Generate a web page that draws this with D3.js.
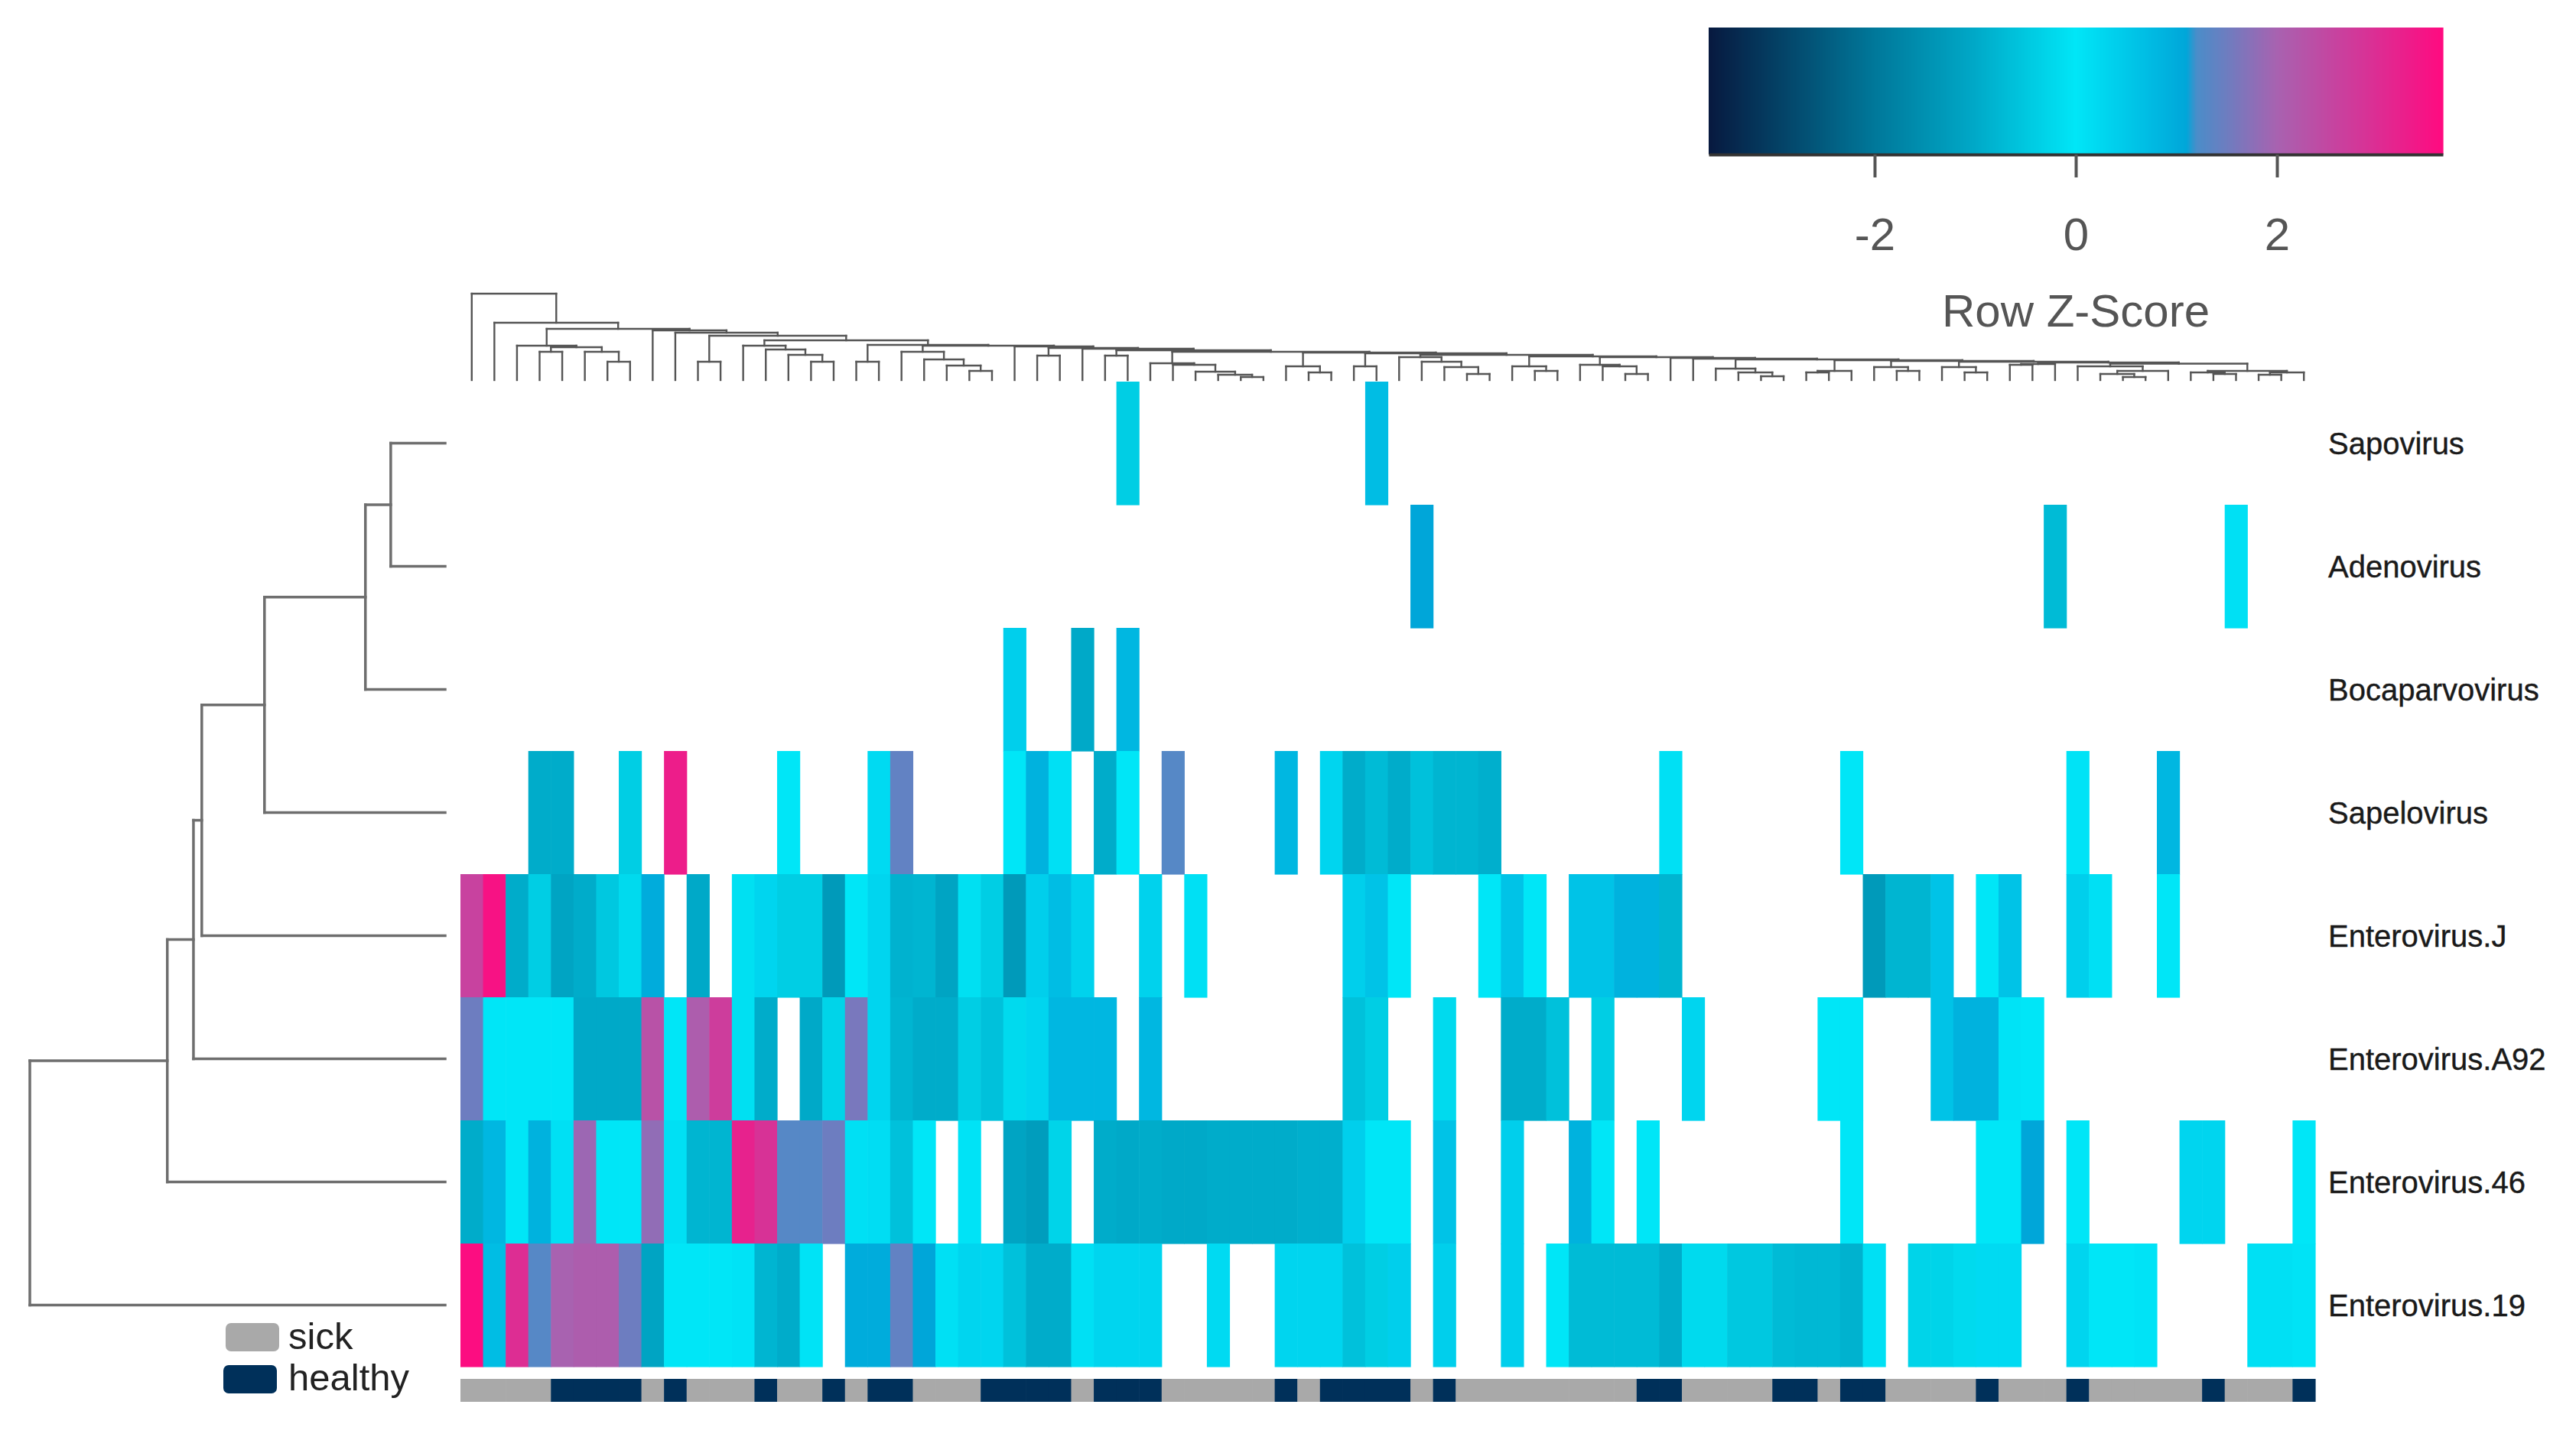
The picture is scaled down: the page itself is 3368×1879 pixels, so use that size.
<!DOCTYPE html>
<html>
<head>
<meta charset="utf-8">
<script src="https://cdn.jsdelivr.net/npm/d3@7"></script>
<style>
  body { margin: 0; background: #fff; }
  svg { display: block; }
</style>
</head>
<body>
<svg id="chart" width="3368" height="1879"></svg>
<script>
// heatmap of virus detections, row z-scores, 82 samples
const rowNames = ["Sapovirus", "Adenovirus", "Bocaparvovirus", "Sapelovirus",
  "Enterovirus.J", "Enterovirus.A92", "Enterovirus.46", "Enterovirus.19"];
const nCols = 82;

// each row: [column, z-score], empty cells are left out
const sapovirus = [[29, -0.4], [40, 0.7]];
const adenovirus = [[42, 1.1], [70, -0.7], [78, 0.1]];
const bocaparvovirus = [[24, 0.4], [27, -1.0], [29, 0.8]];
const sapelovirus = [[3, -0.95], [4, -0.95], [7, -0.4], [9, 3.3], [14, 0.0], [18, 0.2], [19, 1.4],
  [24, 0.0], [25, 0.9], [26, 0.1], [28, -0.95], [29, 0.0], [31, 1.3], [36, 0.8], [38, 0.3],
  [39, -0.95], [40, -0.7], [41, -0.95], [42, -0.6], [43, -0.8], [44, -0.8], [45, -0.9],
  [53, 0.1], [61, 0.0], [71, 0.05], [75, 0.8]];
const enterovirusJ = [[0, 2.6], [1, 3.5], [2, -0.95], [3, -0.4], [4, -1.1], [5, -0.95], [6, -0.5],
  [7, -0.2], [8, 1.0], [10, -1.0], [12, -0.1], [13, 0.3], [14, -0.4], [15, -0.4], [16, -1.3],
  [17, 0.0], [18, 0.3], [19, -0.85], [20, -0.8], [21, -1.1], [22, -0.1], [23, -0.4], [24, -1.3],
  [25, 0.4], [26, 0.7], [27, 0.35], [30, 0.35], [32, 0.1], [39, 0.4], [40, 0.6], [41, 0.0],
  [45, 0.0], [46, 0.6], [47, 0.0], [49, 0.6], [50, 0.6], [51, 0.9], [52, 0.9], [53, -0.8],
  [62, -1.3], [63, -0.8], [64, -0.8], [65, 0.6], [67, 0.0], [68, 0.6], [71, 0.4], [72, 0.1],
  [75, 0.0]];
const enterovirusA92 = [[0, 1.5], [1, 0.0], [2, 0.0], [3, 0.0], [4, 0.0], [5, -1.0], [6, -1.0],
  [7, -1.0], [8, 2.3], [9, 0.0], [10, 2.1], [11, 2.7], [12, -0.1], [13, -0.95], [15, -1.0],
  [16, -0.3], [17, 1.6], [18, 0.3], [19, -0.8], [20, -0.95], [21, -0.95], [22, -0.4], [23, -0.6],
  [24, -0.2], [25, 0.3], [26, 0.8], [27, 0.8], [28, 0.8], [30, 0.8], [39, -0.6], [40, -0.4],
  [43, -0.2], [46, -0.95], [47, -0.95], [48, -0.6], [50, -0.4], [54, 0.3], [60, 0.0], [61, 0.0],
  [65, 0.6], [66, 0.9], [67, 0.9], [68, 0.05], [69, 0.0]];
const enterovirus46 = [[0, -0.95], [1, 0.8], [2, 0.0], [3, 0.9], [4, 0.1], [5, 1.9], [6, 0.0],
  [7, 0.0], [8, 1.8], [9, 0.1], [10, -0.8], [11, -0.8], [12, 3.2], [13, 2.9], [14, 1.3],
  [15, 1.3], [16, 1.5], [17, 0.1], [18, 0.15], [19, -0.6], [20, 0.0], [22, 0.05], [24, -1.1],
  [25, -1.25], [26, -0.3], [28, -0.95], [29, -1.0], [30, -0.95], [31, -1.0], [32, -1.0], [33, -0.95],
  [34, -0.95], [35, -0.95], [36, -0.95], [37, -0.9], [38, -0.9], [39, 0.4], [40, 0.0], [41, 0.0],
  [43, 0.6], [46, 0.4], [49, 0.9], [50, 0.0], [52, 0.0], [61, 0.0], [67, 0.0], [68, 0.0],
  [69, 1.1], [71, 0.0], [76, 0.3], [77, 0.3], [81, 0.0]];
const enterovirus19 = [[0, 3.6], [1, 0.7], [2, 3.0], [3, 1.3], [4, 2.0], [5, 2.1], [6, 2.1],
  [7, 1.5], [8, -1.1], [9, 0.0], [10, 0.0], [11, 0.0], [12, 0.05], [13, -0.8], [14, -0.95],
  [15, 0.05], [17, 1.0], [18, 1.0], [19, 1.4], [20, 1.1], [21, 0.1], [22, 0.3], [23, 0.3],
  [24, -0.6], [25, -0.95], [26, -0.95], [27, 0.1], [28, 0.3], [29, 0.3], [30, 0.3], [33, 0.2],
  [36, 0.3], [37, 0.3], [38, 0.3], [39, -0.6], [40, -0.4], [41, 0.4], [43, 0.4], [46, 0.4],
  [48, 0.0], [49, -0.7], [50, -0.7], [51, -0.7], [52, -0.7], [53, -0.95], [54, -0.2], [55, -0.2],
  [56, -0.5], [57, -0.5], [58, -0.7], [59, -0.75], [60, -0.75], [61, -0.85], [62, 0.1], [64, -0.3],
  [65, -0.3], [66, -0.2], [67, 0.2], [68, 0.2], [71, 0.3], [72, 0.0], [73, 0.0], [74, 0.05],
  [79, 0.1], [80, 0.1], [81, 0.05]];
const rowValues = [sapovirus, adenovirus, bocaparvovirus, sapelovirus,
  enterovirusJ, enterovirusA92, enterovirus46, enterovirus19];

// sample groups, s = sick, h = healthy
const sampleGroup = ("sssshhhhshssshsshshh" + "ssshhhhshhhssssshshhhh" +
  "shsssssssshhsssshhshh" + "sssshssshssssshsssh").split("");
const groupNames = { s: "sick", h: "healthy" };

// colour key
const zStops = [-3.65, -2, -1, 0, 1.1, 1.2, 2, 3.65];
const zColors = ["#07193f", "#00789a", "#00a9c8", "#00e6f7", "#00a6d9", "#4a8dc9", "#a862b0", "#ff0a80"];
const keyTicks = [-2, 0, 2];

// row dendrogram: [height, left, right], leaves are row indexes
const rowTree = [10, [6.69, [6.06, [5.86, [4.35, [1.92, [1.31, 0, 1], 2], 3], 4], 5], 6], 7];

// column dendrogram as a ladder: [height, branch hanging on the left], last one is the tail
const colSpine = [
  [113, 0], [75, 1],
  [67, [45, 2, [43, [37, 3, 4], [37, 5, [24, 6, 7]]]]],
  [65, 8], [62, 9], [58, [24, 10, 11]],
  [52, [45, 12, [40, 13, [33, 14, [24, 15, 16]]]]],
  [46, [24, 17, 18]],
  [45, [37, 19, [27, 20, [19, 21, [12, 22, 23]]]]],
  [44, 24], [42, [32, 25, 26]], [41, 27], [39, [32, 28, 29]],
  [37, [22, 30, [20, 31, [11, 32, [7, 33, [4, 34, 35]]]]]],
  [36, [18, 36, [10, 37, 38]]],
  [35, [18, 39, 40]],
  [33, [30, 41, [24, 42, [17, 43, [8, 44, 45]]]]],
  [31, [18, 46, [12, 47, 48]]],
  [30, [20, 49, [18, 50, [8, 51, 52]]]],
  [29, 53], [28, 54],
  [27, [15, 55, [10, 56, [5, 57, 58]]]],
  [26, [12, [10, 59, 60], 61]],
  [25, [17, 62, [12, 63, 64]]],
  [24, [17, 65, [10, 66, 67]]],
  [23, [21, [20, 68, 69], 70]],
  [21.5, [18, 71, [12, [8, 72, [4, 73, 74]], 75]]]
];
const colTail = [12, [10, 76, [8, 77, 78]], [10, [7, 79, 80], 81]];

const svg = d3.select("#chart");
const font = "'Liberation Sans', Arial, sans-serif";

// scales
const x = d3.scaleBand().domain(d3.range(nCols)).range([602, 3027]);
const y = d3.scaleBand().domain(d3.range(rowNames.length)).range([499, 1787]);
const color = d3.scaleLinear().domain(zStops).range(zColors).clamp(true);

// cells
const cells = [];
rowValues.forEach((row, r) => row.forEach(([c, v]) => cells.push({ r, c, v })));

svg.append("g")
  .selectAll("rect")
  .data(cells)
  .enter()
  .append("rect")
    .attr("x", d => x(d.c))
    .attr("y", d => y(d.r))
    .attr("width", x.bandwidth() + 0.6)
    .attr("height", y.bandwidth() + 0.6)
    .attr("fill", d => color(d.v));

// row labels
svg.append("g")
  .selectAll("text")
  .data(rowNames)
  .enter()
  .append("text")
    .text(d => d)
    .attr("x", 3044)
    .attr("y", (d, i) => y(i) + y.bandwidth() / 2)
    .attr("dy", "0.35em")
    .attr("font-family", font)
    .attr("font-size", 40)
    .attr("fill", "#1a1a1a")
    .attr("stroke", "#1a1a1a")
    .attr("stroke-width", 0.4);

// sample group bar
const groupColor = d3.scaleOrdinal().domain(["s", "h"]).range(["#a9a9a9", "#00305a"]);
svg.append("g")
  .selectAll("rect")
  .data(sampleGroup)
  .enter()
  .append("rect")
    .attr("x", (d, i) => x(i))
    .attr("y", 1803)
    .attr("width", x.bandwidth() + 0.6)
    .attr("height", 30)
    .attr("fill", d => groupColor(d));

// group legend
const legend = svg.append("g");
["s", "h"].forEach((g, i) => {
  legend.append("rect")
    .attr("x", 295 - i * 3)
    .attr("y", 1730 + i * 55)
    .attr("width", 70)
    .attr("height", 37)
    .attr("rx", 7)
    .attr("fill", groupColor(g));
  legend.append("text")
    .text(groupNames[g])
    .attr("x", 377)
    .attr("y", 1764 + i * 54)
    .attr("font-family", font)
    .attr("font-size", 49)
    .attr("fill", "#222");
});

// dendrogram helper: returns line segments
function dendroSegments(tree, leafPos, nodePos) {
  const segs = [];
  const place = n => {
    if (typeof n === "number") return leafPos(n);
    const a = place(n[1]), b = place(n[2]);
    const p = nodePos(n[0], a, b);
    segs.push(p.link(a), p.bar(a, b), p.link(b));
    return p.pt;
  };
  place(tree);
  return segs;
}

// column dendrogram
let colTree = colTail;
for (let i = colSpine.length - 1; i >= 0; i--) colTree = [colSpine[i][0], colSpine[i][1], colTree];
const colH = d3.scaleLinear().domain([0, 113]).range([497, 384]);
const colSegs = dendroSegments(colTree,
  c => ({ x: x(c) + x.bandwidth() / 2, y: colH(0) }),
  (h, a, b) => {
    const yy = colH(h);
    return {
      pt: { x: (a.x + b.x) / 2, y: yy },
      link: q => [q.x, q.y, q.x, yy],
      bar: (p, q) => [p.x, yy, q.x, yy]
    };
  });
svg.append("g")
  .selectAll("line")
  .data(colSegs)
  .enter()
  .append("line")
    .attr("x1", d => d[0]).attr("y1", d => d[1])
    .attr("x2", d => d[2]).attr("y2", d => d[3])
    .attr("stroke", "#555")
    .attr("stroke-width", 2.4)
    .attr("stroke-linecap", "square");

// row dendrogram
const rowH = d3.scaleLinear().domain([0, 10]).range([582, 39]);
const rowSegs = dendroSegments(rowTree,
  r => ({ x: rowH(0), y: y(r) + y.bandwidth() / 2 }),
  (h, a, b) => {
    const xx = rowH(h);
    return {
      pt: { x: xx, y: (a.y + b.y) / 2 },
      link: q => [q.x, q.y, xx, q.y],
      bar: (p, q) => [xx, p.y, xx, q.y]
    };
  });
svg.append("g")
  .selectAll("line")
  .data(rowSegs)
  .enter()
  .append("line")
    .attr("x1", d => d[0]).attr("y1", d => d[1])
    .attr("x2", d => d[2]).attr("y2", d => d[3])
    .attr("stroke", "#6e6e6e")
    .attr("stroke-width", 3.5)
    .attr("stroke-linecap", "square");

// colour key
const keyX = d3.scaleLinear().domain([zStops[0], zStops[zStops.length - 1]]).range([2234, 3194]);
const key = svg.append("g");
key.selectAll("rect")
  .data(d3.range(2234, 3194, 2))
  .enter()
  .append("rect")
    .attr("x", d => d)
    .attr("y", 36)
    .attr("width", 2.6)
    .attr("height", 166)
    .attr("fill", d => color(keyX.invert(d + 1)));

const keyAxis = key.append("g")
  .attr("transform", "translate(0,202)")
  .call(d3.axisBottom(keyX)
    .tickValues(keyTicks)
    .tickSize(30)
    .tickSizeOuter(0)
    .tickPadding(52)
    .tickFormat(d => String(d)));
keyAxis.select(".domain").attr("stroke", "#333").attr("stroke-width", 4);
keyAxis.selectAll(".tick line").attr("stroke", "#555").attr("stroke-width", 4);
keyAxis.selectAll(".tick text")
  .attr("font-family", font)
  .attr("font-size", 60)
  .attr("fill", "#555");

key.append("text")
  .text("Row Z-Score")
  .attr("x", keyX(0))
  .attr("y", 427)
  .attr("text-anchor", "middle")
  .attr("font-family", font)
  .attr("font-size", 60)
  .attr("fill", "#555");
</script>
</body>
</html>
